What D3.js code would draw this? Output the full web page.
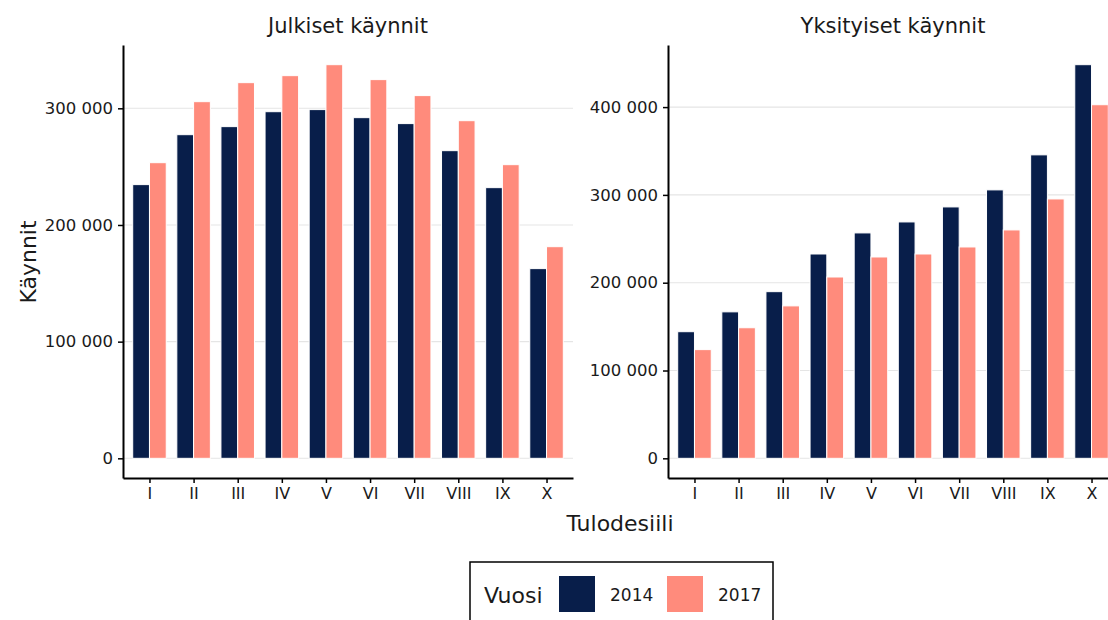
<!DOCTYPE html>
<html><head><meta charset="utf-8">
<script src="https://cdn.jsdelivr.net/npm/d3@7"></script>
<style>
body{margin:0;background:#fff}
svg{display:block}
text{font-family:"DejaVu Sans",sans-serif;fill:#1a1a1a}
</style></head><body>
<svg id="c" width="1108" height="620"></svg>
<script>
const categories = ["I","II","III","IV","V","VI","VII","VIII","IX","X"];
const years = ["2014","2017"];
const panelTitles = ["Julkiset käynnit","Yksityiset käynnit"];
const julkiset2014 = [234600,277400,284300,297100,298900,292000,286900,263700,232000,162600];
const julkiset2017 = [253400,305700,322000,328000,337400,324600,310900,289400,251700,181400];
const yksityiset2014 = [144200,166800,189800,232700,256700,269200,286300,305700,345600,448300];
const yksityiset2017 = [123800,148700,173600,206500,229300,232700,240700,260100,295400,402700];
const ticksJulkiset = [0,100000,200000,300000];
const ticksYksityiset = [0,100000,200000,300000,400000];
const colors = ["#081e4a","#ff8b7c"];

const svg = d3.select("#c");
const loc = d3.formatLocale({decimal:",",thousands:"\u00a0",grouping:[3],currency:["",""]});
const fmt = loc.format(",d");

const panelTop = 45, panelBottom = 478;
const panels = [
  {title: panelTitles[0], series:[julkiset2014, julkiset2017], ticks: ticksJulkiset, x0:123, x1:573},
  {title: panelTitles[1], series:[yksityiset2014, yksityiset2017], ticks: ticksYksityiset, x0:668, x1:1118}
];

panels.forEach(p => {
  const g = svg.append("g");
  const maxV = d3.max(p.series.flat());
  const y = d3.scaleLinear().domain([-0.05*maxV, 1.05*maxV]).range([panelBottom, panelTop]);
  const x = d3.scalePoint().domain(categories).range([p.x0, p.x1]).padding(0.6);
  const step = x.step();
  const bw = 0.38*step;

  g.selectAll("line.grid").data(p.ticks).join("line")
    .attr("x1", p.x0).attr("x2", p.x1)
    .attr("y1", d => y(d)).attr("y2", d => y(d))
    .attr("stroke", "#e5e5e5").attr("stroke-width", 1.1);

  p.series.forEach((s, j) => {
    g.selectAll("rect.s"+j).data(s).join("rect")
      .attr("x", (d,i) => x(categories[i]) - bw + j*bw)
      .attr("width", bw)
      .attr("y", d => y(d))
      .attr("height", d => y(0) - y(d))
      .attr("fill", colors[j])
      .attr("stroke", "#fff").attr("stroke-width", 1);
  });

  const ya = g.append("g").attr("transform", `translate(${p.x0},0)`)
    .call(d3.axisLeft(y).tickValues(p.ticks).tickFormat(fmt).tickSize(5).tickSizeOuter(0).tickPadding(5));
  ya.select(".domain").attr("stroke", "#000").attr("stroke-width", 2);
  ya.selectAll(".tick line").attr("stroke", "#000").attr("stroke-width", 1.5);
  ya.selectAll(".tick text").style("font-size", "16.5px").style("font-family", "DejaVu Sans").attr("fill", "#1a1a1a");

  const xa = g.append("g").attr("transform", `translate(0,${panelBottom})`)
    .call(d3.axisBottom(x).tickSize(5).tickSizeOuter(0).tickPadding(5));
  xa.select(".domain").attr("stroke", "#000").attr("stroke-width", 2);
  xa.selectAll(".tick line").attr("stroke", "#000").attr("stroke-width", 1.5);
  xa.selectAll(".tick text").style("font-size", "16px").style("font-family", "DejaVu Sans").attr("fill", "#1a1a1a");

  g.append("text").attr("x", (p.x0 + p.x1)/2).attr("y", 33)
    .attr("text-anchor", "middle").style("font-size", "21px").text(p.title);
});

svg.append("text").attr("x", 620).attr("y", 531).attr("text-anchor","middle").style("font-size","22px").text("Tulodesiili");
svg.append("text").attr("transform","translate(36,262) rotate(-90)").attr("text-anchor","middle").style("font-size","22px").text("Käynnit");

const lg = svg.append("g");
lg.append("rect").attr("x",470).attr("y",562).attr("width",303).attr("height",70)
  .attr("fill","#fff").attr("stroke","#000").attr("stroke-width",1.5);
lg.append("text").attr("x",484).attr("y",603).style("font-size","22px").text("Vuosi");
years.forEach((yr,i) => {
  const kx = 559 + i*108;
  lg.append("rect").attr("x",kx).attr("y",576).attr("width",36).attr("height",36).attr("fill",colors[i]);
  lg.append("text").attr("x",kx+51).attr("y",601).style("font-size","17px").text(yr);
});
</script>
</body></html>
